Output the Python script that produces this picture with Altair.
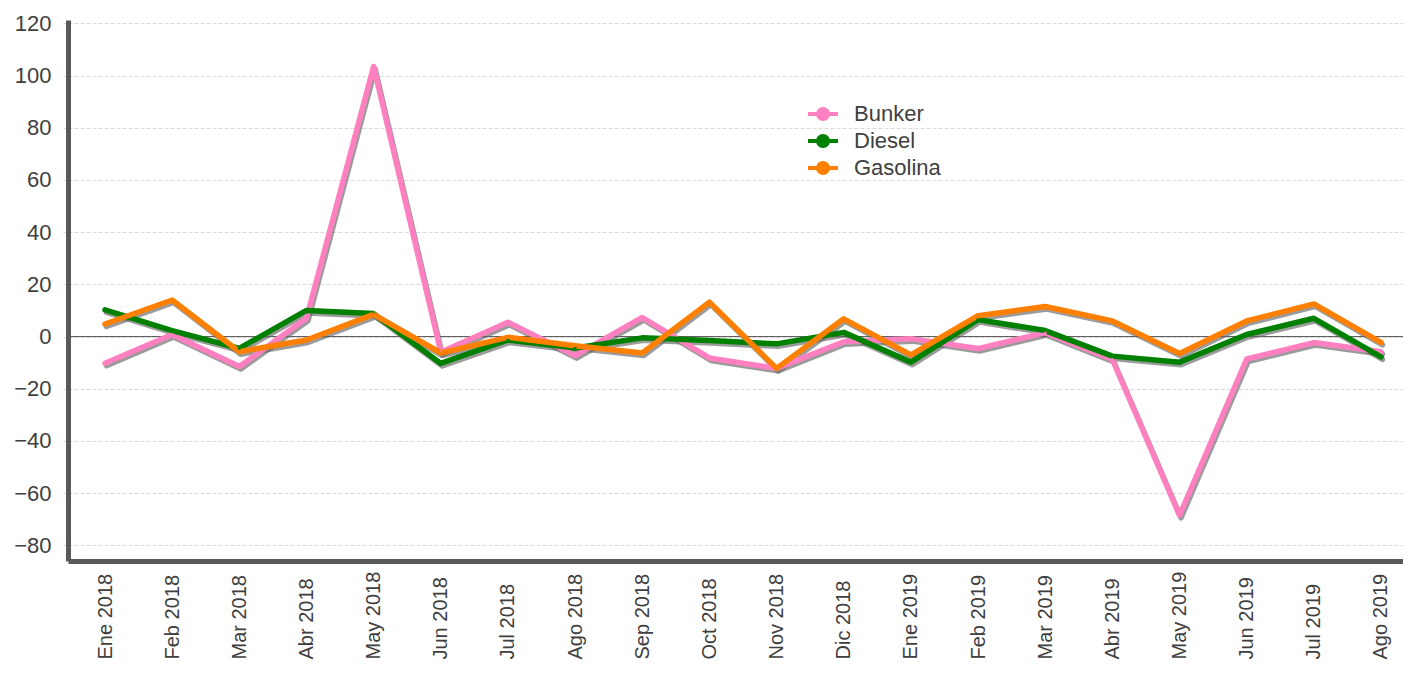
import altair as alt
import pandas as pd

months = ["Ene 2018", "Feb 2018", "Mar 2018", "Abr 2018", "May 2018", "Jun 2018",
          "Jul 2018", "Ago 2018", "Sep 2018", "Oct 2018", "Nov 2018", "Dic 2018",
          "Ene 2019", "Feb 2019", "Mar 2019", "Abr 2019", "May 2019", "Jun 2019",
          "Jul 2019", "Ago 2019"]
bunker = [-10.2, 0.8, -11.5, 7.0, 103.5, -6.0, 5.5, -7.3, 7.3, -8.2,
          -12.2, -2.0, -0.8, -4.6, 1.5, -8.8, -68.5, -8.6, -2.3, -5.8]
diesel = [10.2, 2.3, -4.5, 10.0, 8.8, -10.3, -1.3, -4.4, -0.5, -1.5,
          -2.8, 1.6, -9.8, 6.5, 2.3, -7.5, -9.8, 0.8, 7.0, -7.8]
gasolina = [4.8, 14.0, -5.8, -1.3, 8.5, -6.3, -0.3, -3.5, -6.3, 13.2,
            -12.2, 6.8, -7.0, 8.0, 11.5, 6.0, -6.5, 6.0, 12.5, -2.2]
series_names = ["Bunker", "Diesel", "Gasolina"]
series_colors = ["#FF80C0", "#008000", "#FF8000"]
y_ticks = [-80, -60, -40, -20, 0, 20, 40, 60, 80, 100, 120]

rows = []
for name, vals in zip(series_names, [bunker, diesel, gasolina]):
    for i, (m, v) in enumerate(zip(months, vals)):
        rows.append({"series": name, "month": m, "value": v, "idx": i})
df = pd.DataFrame(rows)

FONT = "Liberation Sans"
FS_X = 20
FS_H = 22

x_enc = alt.X("month:N", sort=months,
              scale=alt.Scale(type="point", range=[0, 1350], padding=0.551),
              axis=alt.Axis(title=None, labelAngle=-90, labelAlign="left",
                            labelBaseline="middle", labelPadding=98,
                            ticks=False, tickSize=0, grid=False,
                            domainColor="#595959", domainWidth=5,
                            labelFont=FONT, labelFontSize=FS_X,
                            labelColor="#404040"))
y_enc = alt.Y("value:Q",
              scale=alt.Scale(domain=[-86, 121.3], nice=False, zero=False),
              axis=alt.Axis(title=None, values=y_ticks, grid=True,
                            gridColor="#d9d9d9", gridDash=[4, 2], gridWidth=1,
                            tickColor="#d9d9d9", tickSize=5, tickWidth=1,
                            domainColor="#595959", domainWidth=5,
                            labelPadding=12,
                            labelFont=FONT, labelFontSize=FS_H,
                            labelColor="#404040"))

base = alt.Chart(df)

zero = alt.Chart(pd.DataFrame({"v": [0]})).mark_rule(
    color="#595959", strokeWidth=1).encode(y=alt.Y("v:Q"))

shadow = base.mark_line(color="#666666", opacity=0.65, strokeWidth=5.5,
                        xOffset=1.5, yOffset=2.5,
                        strokeCap="round", strokeJoin="round").encode(
    x=x_enc, y=y_enc, detail="series:N", order="idx:Q")

legend_cfg = alt.Legend(
    title=None, orient="none", legendX=743, legendY=82, padding=0,
    symbolType="M-1.5,0L1.5,0M-0.5,0A0.5,0.5 0 1,1 0.5,0A0.5,0.5 0 1,1 -0.5,0Z",
    symbolSize=400, symbolStrokeWidth=4, rowPadding=1, labelOffset=19,
    labelFont=FONT, labelFontSize=FS_H, labelColor="#404040")

color_enc = alt.Color("series:N",
                      scale=alt.Scale(domain=series_names, range=series_colors),
                      legend=legend_cfg)

line = base.mark_line(strokeWidth=5.5, strokeCap="round", strokeJoin="round").encode(
    x=x_enc, y=y_enc, color=color_enc, order="idx:Q")

pts = base.mark_point(filled=True, size=10, opacity=1).encode(
    x=x_enc, y=y_enc, color=color_enc)

chart = alt.layer(zero, shadow, line, pts).properties(
    width=1335, height=541,
    autosize=alt.AutoSizeParams(type="none"),
    padding={"left": 60, "top": 12, "right": 0, "bottom": 100},
    background="white",
).configure_view(stroke=None)

chart.save("out.html", embed_options={"renderer": "svg", "actions": False})
